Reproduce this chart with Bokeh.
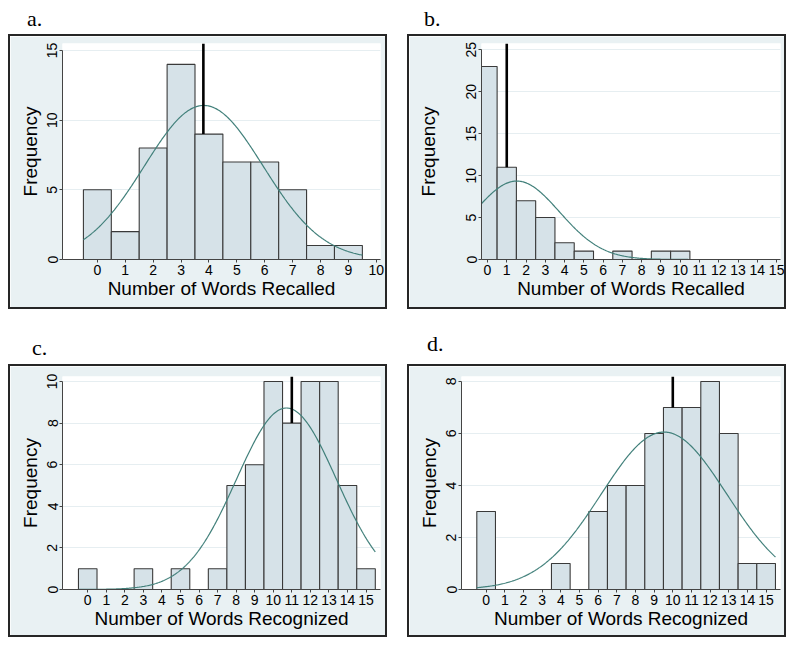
import numpy as np
from bokeh.plotting import figure
from bokeh.layouts import column, row
from bokeh.models import Div, Range1d, FixedTicker, ColumnDataSource
from bokeh.embed import file_html
from bokeh.resources import INLINE

# ---------------- data ----------------
bins_a = [0, 1, 2, 3, 4, 5, 6, 7, 8, 9]
counts_a = [5, 2, 8, 14, 9, 7, 7, 5, 1, 1]

bins_b = [0, 1, 2, 3, 4, 5, 6, 7, 8, 9, 10]
counts_b = [23, 11, 7, 5, 2, 1, 0, 1, 0, 1, 1]

bins_c = [0, 1, 2, 3, 4, 5, 6, 7, 8, 9, 10, 11, 12, 13, 14, 15]
counts_c = [1, 0, 0, 1, 0, 1, 0, 1, 5, 6, 10, 8, 10, 10, 5, 1]

bins_d = [0, 1, 2, 3, 4, 5, 6, 7, 8, 9, 10, 11, 12, 13, 14, 15]
counts_d = [3, 0, 0, 0, 1, 0, 3, 4, 4, 6, 7, 7, 8, 6, 1, 1]

marker_values = [3.8, 1.0, 11.0, 10.0]          # black reference lines
panel_labels = ["a.", "b.", "c.", "d."]
x_titles = ["Number of Words Recalled", "Number of Words Recalled",
            "Number of Words Recognized", "Number of Words Recognized"]
y_title = "Frequency"
x_ticks_a = list(range(0, 11))
x_ticks_bcd = list(range(0, 16))
y_ticks_a = [0, 5, 10, 15]
y_ticks_b = [0, 5, 10, 15, 20, 25]
y_ticks_c = [0, 2, 4, 6, 8, 10]
y_ticks_d = [0, 2, 4, 6, 8]

# ---------------- styling ----------------
BG = "#e9f1f3"
BAR = "#d6e2e8"
BAR_LINE = "#3a3a3a"
CURVE = "#42807b"
GRID = "#e6eef1"
SANS = "Liberation Sans"
SERIF = "Liberation Serif"


def make_panel(bins, counts, marker, xr, yr, xticks, yticks, xtitle,
               height, mb_left, mb_right, mb_top, mb_bottom, ylab_standoff):
    p = figure(width=379, height=height, x_range=Range1d(*xr), y_range=Range1d(*yr),
               output_backend="svg", toolbar_location=None,
               min_border_left=mb_left, min_border_right=mb_right,
               min_border_top=mb_top, min_border_bottom=mb_bottom)
    p.background_fill_color = "white"
    p.border_fill_color = BG
    p.outline_line_color = None
    p.styles = {"border": "2px solid #262626"}

    b = np.array(bins, dtype=float)
    c = np.array(counts, dtype=float)
    keep = c > 0
    src = ColumnDataSource(dict(left=b[keep] - 0.5, right=b[keep] + 0.5, top=c[keep]))
    p.quad(left="left", right="right", bottom=0, top="top", source=src,
           fill_color=BAR, line_color=BAR_LINE, line_width=1.1)

    # fitted normal density scaled to counts
    n = c.sum()
    mean = (b * c).sum() / n
    sd = np.sqrt(((b - mean) ** 2 * c).sum() / (n - 1))
    xs = np.linspace(b.min() - 0.5, b.max() + 0.5, 300)
    ys = n * np.exp(-0.5 * ((xs - mean) / sd) ** 2) / (sd * np.sqrt(2 * np.pi))
    p.line(xs, ys, line_color=CURVE, line_width=1.2)

    # reference line from bar top to top of plot region
    idx = int(np.floor(marker + 0.5))
    y0 = counts[bins.index(idx)]
    p.segment(x0=[marker], y0=[y0], x1=[marker], y1=[yr[1]],
              line_color="black", line_width=2.6)

    p.xgrid.visible = False
    p.ygrid.grid_line_color = GRID
    p.ygrid.ticker = FixedTicker(ticks=yticks)

    for ax in (p.xaxis, p.yaxis):
        ax.axis_line_color = "#444444"
        ax.major_tick_line_color = "#444444"
        ax.major_tick_out = 3
        ax.major_tick_in = 0
        ax.minor_tick_line_color = None
        ax.major_label_text_font = SANS
        ax.major_label_text_font_size = "14px"
        ax.major_label_text_color = "black"
        ax.axis_label_text_font = SANS
        ax.axis_label_text_font_size = "19px"
        ax.axis_label_text_font_style = "normal"
        ax.axis_label_text_color = "black"
        ax.major_label_standoff = 2

    p.xaxis.ticker = FixedTicker(ticks=xticks)
    p.yaxis.ticker = FixedTicker(ticks=yticks)
    p.yaxis.bounds = (0, yticks[-1])
    p.yaxis.major_label_orientation = "vertical"
    p.xaxis.axis_label = xtitle
    p.yaxis.axis_label = y_title
    p.xaxis.axis_label_standoff = 0
    p.yaxis.axis_label_standoff = ylab_standoff
    return p


def label_div(text, pad_left, pad_top, height):
    return Div(text=f'<div style="padding-left:{pad_left}px;padding-top:{pad_top}px">{text}</div>',
               width=383, height=height, margin=0,
               styles={"font-family": SERIF, "font-size": "22px", "line-height": "22px",
                       "color": "black"})


pa = make_panel(bins_a, counts_a, marker_values[0], (-1.25, 10.15), (0, 15.5),
                x_ticks_a, y_ticks_a, x_titles[0], 275, 52, 9, 7, 52, 4)
pb = make_panel(bins_b, counts_b, marker_values[1], (-0.31, 15.2), (0, 25.75),
                x_ticks_bcd, y_ticks_b, x_titles[1], 275, 72, 8, 7, 52, 25)
pc = make_panel(bins_c, counts_c, marker_values[2], (-1.36, 15.78), (0, 10.24),
                x_ticks_bcd, y_ticks_c, x_titles[2], 273, 52, 9, 10, 50, 4)
pd_ = make_panel(bins_d, counts_d, marker_values[3], (-1.32, 15.77), (0, 8.19),
                 x_ticks_bcd, y_ticks_d, x_titles[3], 273, 52, 8, 10, 50, 4)

col_a = column(label_div(panel_labels[0], 19, 0, 26), pa, spacing=0)
col_b = column(label_div(panel_labels[1], 17, 0, 26), pb, spacing=0)
col_c = column(label_div(panel_labels[2], 24, 28, 55), pc, spacing=0)
col_d = column(label_div(panel_labels[3], 20, 24, 55), pd_, spacing=0)

layout = column(row(col_a, col_b, spacing=16), row(col_c, col_d, spacing=16),
                spacing=0, margin=(8, 0, 0, 8))

with open("out.html", "w") as f:
    f.write(file_html(layout, INLINE))
